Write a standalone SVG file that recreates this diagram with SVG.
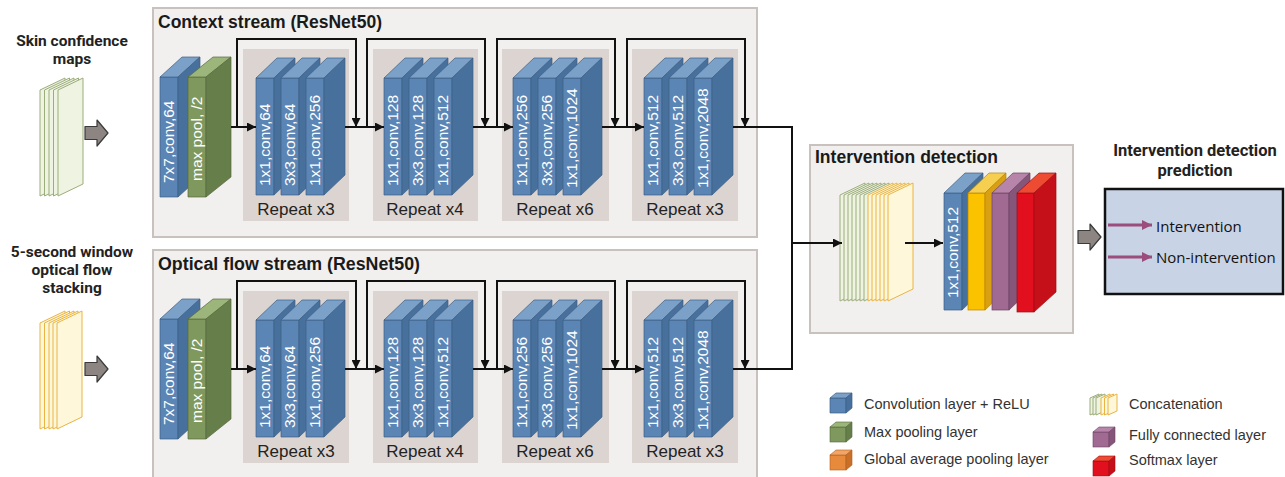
<svg xmlns="http://www.w3.org/2000/svg" xmlns:xlink="http://www.w3.org/1999/xlink" width="1285" height="477" viewBox="0 0 1285 477">
<style>
.pnl{fill:#f2f0ef;stroke:#c9c1bd;stroke-width:2}
.rep{fill:#dcd4d1}
.ttl{font-family:"Liberation Sans",Arial,sans-serif;font-weight:bold;font-size:18px;fill:#1a1a1a}
.rpt{font-family:"Liberation Sans",Arial,sans-serif;font-size:17px;fill:#222;text-anchor:middle}
.lbl{font-family:"Liberation Sans",Arial,sans-serif;font-size:15.5px;fill:#fff}
.in{font-family:Roboto,"Liberation Sans",sans-serif;font-weight:700;font-size:15.5px;fill:#222;text-anchor:middle}
.pt2{font-size:16.5px}
.cn{fill:none;stroke:#111;stroke-width:2}
.lg{font-family:"Liberation Sans",Arial,sans-serif;font-size:14.5px;fill:#333}
.pr{font-family:"Open Sans","Liberation Sans",sans-serif;font-size:15px;fill:#111}
.bf{fill:#5b85b5}.bs{fill:#48709c}.bt{fill:#7ba1c9}
.gf{fill:#7e985d}.gs{fill:#667e4a}.gt{fill:#9bb57a}
.yf{fill:#fbc200}.ys{fill:#d9a011}.yt{fill:#f7cf50}
.pf{fill:#a06a92}.ps{fill:#85567a}.pt{fill:#b785a9}
.rf{fill:#e2101e}.rs{fill:#c50f19}.rt{fill:#ee4b33}
.of{fill:#e88a3c}.os{fill:#c96f27}.ot{fill:#f2a566}
.blk{stroke:#3e5f85;stroke-width:0.7;stroke-linejoin:round}
.sg{fill:#eef3e2;stroke:#9cad7c;stroke-width:1}
.sy{fill:#fff7da;stroke:#e9b443;stroke-width:1}
.ga{fill:#8c8582;stroke:#3a3a3a;stroke-width:1.2;stroke-linejoin:round}
</style>
<defs>
  <marker id="ah" markerWidth="9" markerHeight="9" refX="9" refY="4.5" orient="auto" markerUnits="userSpaceOnUse">
    <path d="M0,0 L9,4.5 L0,9 Z" fill="#111"/>
  </marker>
  <marker id="pah" markerWidth="10" markerHeight="10" refX="10" refY="5" orient="auto" markerUnits="userSpaceOnUse">
    <path d="M0,0 L10,5 L0,10 Z" fill="#9b4d7d"/>
  </marker>
  <!-- residual conv block: front face 18x117, depth 21/20 -->
  <g id="cb" class="blk"><rect class="bf" width="18" height="117"/><polygon class="bt" points="0,0 21,-20 39,-20 18,0"/><polygon class="bs" points="18,0 39,-20 39,97 18,117"/></g>
  <!-- first 7x7 conv block -->
  <g id="cbT" class="blk"><rect class="bf" width="18" height="120"/><polygon class="bt" points="0,0 22,-20 40,-20 18,0"/><polygon class="bs" points="18,0 40,-20 40,100 18,120"/></g>
  <!-- max pool block -->
  <g id="mp" style="stroke:#56693f;stroke-width:0.7;stroke-linejoin:round"><rect class="gf" width="18" height="120"/><polygon class="gt" points="0,0 25,-20 43,-20 18,0"/><polygon class="gs" points="18,0 43,-20 43,100 18,120"/></g>
  <!-- head blocks -->
  <g id="gap" style="stroke:#b98500;stroke-width:0.7"><rect class="yf" width="17" height="117"/><polygon class="yt" points="0,0 21,-20 38,-20 17,0"/><polygon class="ys" points="17,0 38,-20 38,97 17,117"/></g>
  <g id="fc" style="stroke:#6d4463;stroke-width:0.7"><rect class="pf" width="17" height="117"/><polygon class="pt" points="0,0 21,-20 38,-20 17,0"/><polygon class="ps" points="17,0 38,-20 38,97 17,117"/></g>
  <g id="sm" style="stroke:#a00c14;stroke-width:0.7"><rect class="rf" width="17" height="119"/><polygon class="rt" points="0,0 22,-20 39,-20 17,0"/><polygon class="rs" points="17,0 39,-20 39,99 17,119"/></g>
  <!-- stacked sheet -->
  <path id="sheet" d="M0,12 L25,0 L25,106 L0,118 Z"/>
  <path id="miniSheet" d="M0,4 L9,0 L9,17 L0,21 Z"/>
  <!-- legend cube -->
  <g id="cubeB" class="blk"><rect class="bf" width="16" height="15"/><polygon class="bt" points="0,0 6,-5 22,-5 16,0"/><polygon class="bs" points="16,0 22,-5 22,10 16,15"/></g>
  <g id="cubeG" style="stroke:#56693f;stroke-width:0.6"><rect class="gf" width="16" height="15"/><polygon class="gt" points="0,0 6,-5 22,-5 16,0"/><polygon class="gs" points="16,0 22,-5 22,10 16,15"/></g>
  <g id="cubeO" style="stroke:#b0601f;stroke-width:0.6"><rect class="of" width="16" height="15"/><polygon class="ot" points="0,0 6,-5 22,-5 16,0"/><polygon class="os" points="16,0 22,-5 22,10 16,15"/></g>
  <g id="cubeP" style="stroke:#6d4463;stroke-width:0.6"><rect class="pf" width="16" height="15"/><polygon class="pt" points="0,0 6,-5 22,-5 16,0"/><polygon class="ps" points="16,0 22,-5 22,10 16,15"/></g>
  <g id="cubeR" style="stroke:#a00c14;stroke-width:0.6"><rect class="rf" width="16" height="15"/><polygon class="rt" points="0,0 6,-5 22,-5 16,0"/><polygon class="rs" points="16,0 22,-5 22,10 16,15"/></g>
  <!-- fat grey arrow -->
  <path id="fat" class="ga" d="M0,-6.5 H12 V-13 L23,0 L12,13 V6.5 H0 Z"/>
</defs>

<rect width="1285" height="477" fill="#fff"/>

<!-- inputs -->
<g id="input-skin">
  <text class="in" x="72" y="46">Skin confidence</text>
  <text class="in" x="72" y="64">maps</text>
  <g class="sg">
    <use href="#sheet" x="40" y="78"/><use href="#sheet" x="44.5" y="78"/><use href="#sheet" x="49" y="78"/><use href="#sheet" x="53.5" y="78"/><use href="#sheet" x="58" y="78"/>
  </g>
  <use href="#fat" x="85" y="133"/>
</g>
<g id="input-flow">
  <text class="in" x="72" y="257">5-second window</text>
  <text class="in" x="72" y="275">optical flow</text>
  <text class="in" x="72" y="293">stacking</text>
  <g class="sy">
    <use href="#sheet" x="40" y="311"/><use href="#sheet" x="44.5" y="311"/><use href="#sheet" x="49" y="311"/><use href="#sheet" x="53" y="311"/><use href="#sheet" x="57" y="311"/>
  </g>
  <use href="#fat" x="85" y="369"/>
</g>

<!-- context stream -->
<g id="context-stream">
  <rect class="pnl" x="153" y="8" width="604" height="229"/>
  <text class="ttl" x="158" y="28" textLength="224" lengthAdjust="spacingAndGlyphs">Context stream (ResNet50)</text>
  <g id="ctx-stem">
    <use href="#cbT" x="160" y="77"/>
    <use href="#mp" x="188" y="77"/>
    <text class="lbl" transform="translate(174,183) rotate(-90)">7x7,conv,64</text>
    <text class="lbl" transform="translate(202,181) rotate(-90)">max pool, /2</text>
  </g>
  <g id="ctx-stage1">
    <rect class="rep" x="243" y="49" width="106" height="172"/>
    <use href="#cb" x="256" y="78"/><use href="#cb" x="281" y="78"/><use href="#cb" x="306" y="78"/>
    <text class="lbl" transform="translate(270,186) rotate(-90)">1x1,conv,64</text>
    <text class="lbl" transform="translate(295,186) rotate(-90)">3x3,conv,64</text>
    <text class="lbl" transform="translate(320,186) rotate(-90)">1x1,conv,256</text>
    <text class="rpt" x="296" y="215">Repeat x3</text>
  </g>
  <g id="ctx-stage2">
    <rect class="rep" x="373" y="49" width="105" height="172"/>
    <use href="#cb" x="384" y="78"/><use href="#cb" x="409" y="78"/><use href="#cb" x="434" y="78"/>
    <text class="lbl" transform="translate(398,186) rotate(-90)">1x1,conv,128</text>
    <text class="lbl" transform="translate(423,186) rotate(-90)">3x3,conv,128</text>
    <text class="lbl" transform="translate(448,186) rotate(-90)">1x1,conv,512</text>
    <text class="rpt" x="425" y="215">Repeat x4</text>
  </g>
  <g id="ctx-stage3">
    <rect class="rep" x="502" y="49" width="107" height="172"/>
    <use href="#cb" x="513" y="78"/><use href="#cb" x="538" y="78"/><use href="#cb" x="563" y="78"/>
    <text class="lbl" transform="translate(527,186) rotate(-90)">1x1,conv,256</text>
    <text class="lbl" transform="translate(552,186) rotate(-90)">3x3,conv,256</text>
    <text class="lbl" transform="translate(577,188) rotate(-90)">1x1,conv,1024</text>
    <text class="rpt" x="555" y="215">Repeat x6</text>
  </g>
  <g id="ctx-stage4">
    <rect class="rep" x="632" y="49" width="106" height="172"/>
    <use href="#cb" x="644" y="78"/><use href="#cb" x="669" y="78"/><use href="#cb" x="694" y="78"/>
    <text class="lbl" transform="translate(658,186) rotate(-90)">1x1,conv,512</text>
    <text class="lbl" transform="translate(683,186) rotate(-90)">3x3,conv,512</text>
    <text class="lbl" transform="translate(708,188) rotate(-90)">1x1,conv,2048</text>
    <text class="rpt" x="685" y="215">Repeat x3</text>
  </g>
</g>

<!-- optical flow stream -->
<g id="flow-stream">
  <rect class="pnl" x="153" y="250" width="604" height="240"/>
  <text class="ttl" x="158" y="270" textLength="262" lengthAdjust="spacingAndGlyphs">Optical flow stream (ResNet50)</text>
  <g id="flow-stem">
    <use href="#cbT" x="160" y="319"/>
    <use href="#mp" x="188" y="319"/>
    <text class="lbl" transform="translate(174,425) rotate(-90)">7x7,conv,64</text>
    <text class="lbl" transform="translate(202,423) rotate(-90)">max pool, /2</text>
  </g>
  <g id="flow-stage1">
    <rect class="rep" x="243" y="291" width="106" height="172"/>
    <use href="#cb" x="256" y="320"/><use href="#cb" x="281" y="320"/><use href="#cb" x="306" y="320"/>
    <text class="lbl" transform="translate(270,428) rotate(-90)">1x1,conv,64</text>
    <text class="lbl" transform="translate(295,428) rotate(-90)">3x3,conv,64</text>
    <text class="lbl" transform="translate(320,428) rotate(-90)">1x1,conv,256</text>
    <text class="rpt" x="296" y="457">Repeat x3</text>
  </g>
  <g id="flow-stage2">
    <rect class="rep" x="373" y="291" width="105" height="172"/>
    <use href="#cb" x="384" y="320"/><use href="#cb" x="409" y="320"/><use href="#cb" x="434" y="320"/>
    <text class="lbl" transform="translate(398,428) rotate(-90)">1x1,conv,128</text>
    <text class="lbl" transform="translate(423,428) rotate(-90)">3x3,conv,128</text>
    <text class="lbl" transform="translate(448,428) rotate(-90)">1x1,conv,512</text>
    <text class="rpt" x="425" y="457">Repeat x4</text>
  </g>
  <g id="flow-stage3">
    <rect class="rep" x="502" y="291" width="107" height="172"/>
    <use href="#cb" x="513" y="320"/><use href="#cb" x="538" y="320"/><use href="#cb" x="563" y="320"/>
    <text class="lbl" transform="translate(527,428) rotate(-90)">1x1,conv,256</text>
    <text class="lbl" transform="translate(552,428) rotate(-90)">3x3,conv,256</text>
    <text class="lbl" transform="translate(577,430) rotate(-90)">1x1,conv,1024</text>
    <text class="rpt" x="555" y="457">Repeat x6</text>
  </g>
  <g id="flow-stage4">
    <rect class="rep" x="632" y="291" width="106" height="172"/>
    <use href="#cb" x="644" y="320"/><use href="#cb" x="669" y="320"/><use href="#cb" x="694" y="320"/>
    <text class="lbl" transform="translate(658,428) rotate(-90)">1x1,conv,512</text>
    <text class="lbl" transform="translate(683,428) rotate(-90)">3x3,conv,512</text>
    <text class="lbl" transform="translate(708,430) rotate(-90)">1x1,conv,2048</text>
    <text class="rpt" x="685" y="457">Repeat x3</text>
  </g>
</g>

<!-- fusion head -->
<g id="intervention-detection">
  <rect class="pnl" x="810" y="145" width="263" height="188"/>
  <text class="ttl" x="815" y="163" textLength="183" lengthAdjust="spacingAndGlyphs">Intervention detection</text>
  <g class="sg">
    <use href="#sheet" x="840" y="183"/><use href="#sheet" x="844" y="183"/><use href="#sheet" x="848" y="183"/><use href="#sheet" x="852" y="183"/><use href="#sheet" x="856" y="183"/><use href="#sheet" x="860" y="183"/><use href="#sheet" x="864" y="183"/>
  </g>
  <g class="sy">
    <use href="#sheet" x="868" y="183"/><use href="#sheet" x="872" y="183"/><use href="#sheet" x="876" y="183"/><use href="#sheet" x="880" y="183"/><use href="#sheet" x="884" y="183"/><use href="#sheet" x="888" y="183"/>
  </g>
  <use href="#cb" x="944" y="193"/>
  <text class="lbl" transform="translate(958,298) rotate(-90)">1x1,conv,512</text>
  <use href="#gap" x="968" y="193"/>
  <use href="#fc" x="992" y="193"/>
  <use href="#sm" x="1017" y="193"/>
</g>

<g id="prediction">
  <text class="in pt2" x="1195" y="156">Intervention detection</text>
  <text class="in pt2" x="1195" y="176">prediction</text>
  <use href="#fat" x="1078" y="237"/>
  <rect x="1105" y="189" width="178" height="105" fill="#c9d3e6" stroke="#111" stroke-width="2.5"/>
  <path d="M1108,225 H1152" stroke="#9b4d7d" stroke-width="3" marker-end="url(#pah)"/>
  <path d="M1108,257 H1152" stroke="#9b4d7d" stroke-width="3" marker-end="url(#pah)"/>
  <text class="pr" x="1156" y="232">Intervention</text>
  <text class="pr" x="1156" y="263">Non-intervention</text>
</g>

<!-- connectors -->
<g id="connectors" class="cn">
  <path d="M231,127 H256" marker-end="url(#ah)"/>
  <path d="M237,127 V39 H356 V127" marker-end="url(#ah)"/>
  <path d="M345,127 H384" marker-end="url(#ah)"/>
  <path d="M367,127 V39 H485 V127" marker-end="url(#ah)"/>
  <path d="M473,127 H513" marker-end="url(#ah)"/>
  <path d="M497,127 V39 H615 V127" marker-end="url(#ah)"/>
  <path d="M602,127 H644" marker-end="url(#ah)"/>
  <path d="M627,127 V39 H745 V127" marker-end="url(#ah)"/>
  <path d="M733,127 H792 V243"/>
  <path d="M231,369 H256" marker-end="url(#ah)"/>
  <path d="M237,369 V281 H356 V369" marker-end="url(#ah)"/>
  <path d="M345,369 H384" marker-end="url(#ah)"/>
  <path d="M367,369 V281 H485 V369" marker-end="url(#ah)"/>
  <path d="M473,369 H513" marker-end="url(#ah)"/>
  <path d="M497,369 V281 H615 V369" marker-end="url(#ah)"/>
  <path d="M602,369 H644" marker-end="url(#ah)"/>
  <path d="M627,369 V281 H745 V369" marker-end="url(#ah)"/>
  <path d="M733,369 H792 V243"/>
  <path d="M792,243 H842" marker-end="url(#ah)"/>
  <path d="M905,243 H943" marker-end="url(#ah)"/>
</g>

<!-- legend -->
<g id="legend">
  <use href="#cubeB" x="830" y="398"/>
  <text class="lg" x="864" y="409">Convolution layer + ReLU</text>
  <use href="#cubeG" x="830" y="427"/>
  <text class="lg" x="864" y="437">Max pooling layer</text>
  <use href="#cubeO" x="830" y="455"/>
  <text class="lg" x="864" y="464">Global average pooling layer</text>
  <g class="sg"><use href="#miniSheet" x="1090" y="394"/><use href="#miniSheet" x="1093" y="394"/><use href="#miniSheet" x="1096" y="394"/></g>
  <g class="sy"><use href="#miniSheet" x="1101" y="394"/><use href="#miniSheet" x="1104.5" y="394"/><use href="#miniSheet" x="1108" y="394"/></g>
  <text class="lg" x="1129" y="409">Concatenation</text>
  <use href="#cubeP" x="1093" y="432"/>
  <text class="lg" x="1129" y="440">Fully connected layer</text>
  <use href="#cubeR" x="1093" y="461"/>
  <text class="lg" x="1129" y="465">Softmax layer</text>
</g>
</svg>
